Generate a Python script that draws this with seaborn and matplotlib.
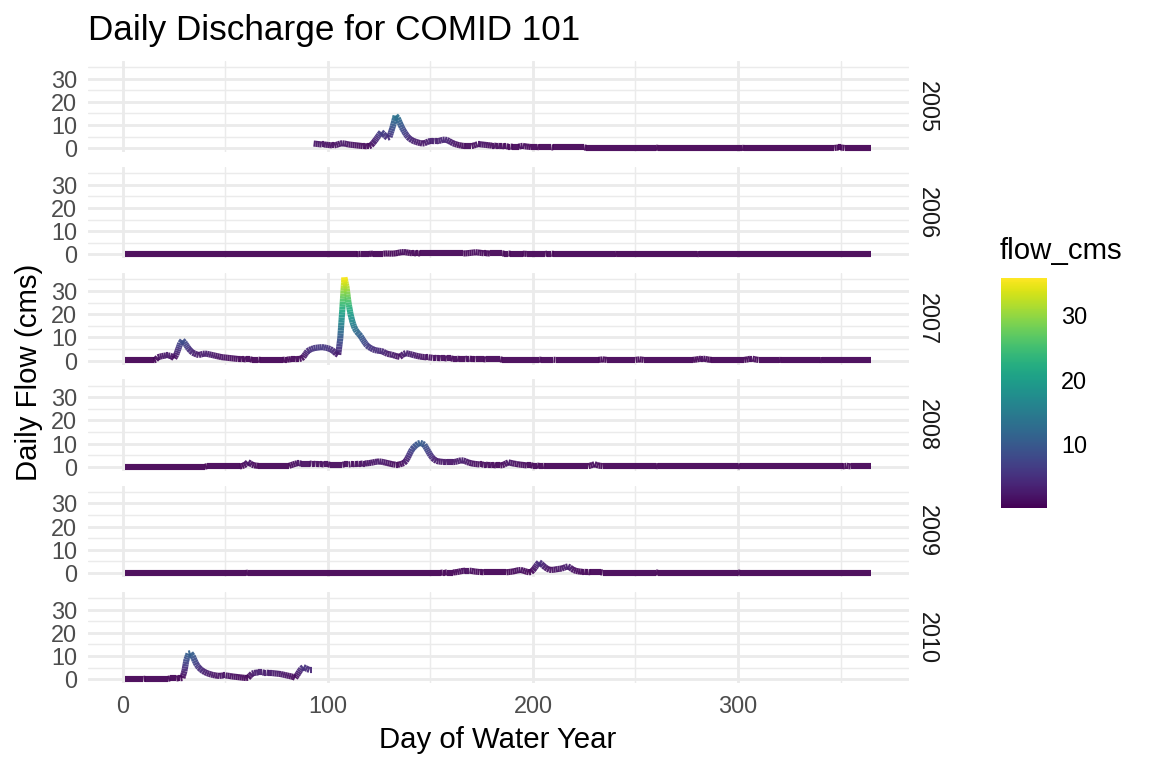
import numpy as np
import pandas as pd
import matplotlib
matplotlib.use("Agg")
import matplotlib.pyplot as plt
import matplotlib.cm as cm
from matplotlib.colors import Normalize
from matplotlib.collections import LineCollection
import seaborn as sns

# ---------------- data (daily flow, cms) ----------------
years = ["2005", "2006", "2007", "2008", "2009", "2010"]
start_days = [93, 1, 1, 1, 1, 1]

flow_2005 = [
    2.0, 1.9, 1.8, 1.7, 1.6, 1.6, 1.5, 1.4, 1.3, 1.2,
    1.2, 1.4, 1.7, 2.0, 2.1, 2.0, 1.8, 1.6, 1.5, 1.4,
    1.3, 1.2, 1.1, 1.0, 0.9, 0.9, 0.8, 0.8, 1.2, 2.2,
    3.3, 4.5, 5.8, 6.9, 6.2, 5.2, 4.5, 4.8, 7.5, 10.5,
    14.0, 13.0, 11.0, 9.0, 7.4, 6.0, 4.8, 4.0, 3.4, 3.0,
    2.7, 2.4, 2.2, 2.0, 2.1, 2.5, 2.9, 3.1, 3.1, 3.0,
    3.0, 3.1, 3.3, 3.6, 3.7, 3.5, 3.1, 2.6, 2.1, 1.8,
    1.5, 1.3, 1.1, 1.0, 0.9, 0.9, 0.9, 0.9, 1.1, 1.4,
    1.7, 1.7, 1.6, 1.5, 1.4, 1.3, 1.2, 1.1, 1.1, 1.0,
    1.0, 0.9, 0.9, 0.8, 0.8, 0.7, 0.7, 0.6, 0.6, 0.6,
    0.6, 0.9, 1.0, 0.8, 0.7, 0.6, 0.5, 0.5, 0.5, 0.5,
    0.4, 0.4, 0.4, 0.4, 0.4, 0.4, 0.4, 0.3, 0.3, 0.3,
    0.3, 0.3, 0.3, 0.3, 0.3, 0.3, 0.3, 0.3, 0.3, 0.3,
    0.3, 0.3, 0.3, 0.2, 0.2, 0.2, 0.2, 0.2, 0.2, 0.2,
    0.2, 0.2, 0.2, 0.2, 0.2, 0.2, 0.2, 0.2, 0.2, 0.2,
    0.2, 0.2, 0.2, 0.2, 0.2, 0.2, 0.2, 0.2, 0.2, 0.2,
    0.2, 0.2, 0.2, 0.2, 0.2, 0.2, 0.2, 0.2, 0.15, 0.15,
    0.15, 0.15, 0.15, 0.15, 0.15, 0.15, 0.15, 0.15, 0.15, 0.15,
    0.15, 0.15, 0.15, 0.15, 0.15, 0.15, 0.15, 0.15, 0.15, 0.15,
    0.15, 0.15, 0.15, 0.15, 0.15, 0.15, 0.15, 0.15, 0.15, 0.15,
    0.15, 0.15, 0.15, 0.15, 0.15, 0.15, 0.15, 0.15, 0.15, 0.15,
    0.1, 0.1, 0.1, 0.1, 0.1, 0.1, 0.1, 0.1, 0.1, 0.1,
    0.1, 0.1, 0.1, 0.1, 0.1, 0.1, 0.1, 0.1, 0.1, 0.1,
    0.1, 0.1, 0.1, 0.1, 0.1, 0.1, 0.1, 0.1, 0.1, 0.1,
    0.1, 0.1, 0.1, 0.1, 0.1, 0.1, 0.1, 0.1, 0.1, 0.1,
    0.1, 0.1, 0.1, 0.1, 0.1, 0.2, 0.3, 0.3, 0.2, 0.1,
    0.1, 0.1, 0.1, 0.1, 0.1, 0.1, 0.1, 0.1, 0.1, 0.1,
    0.1, 0.1, 0.1,
]

flow_2006 = [
    0.1, 0.1, 0.1, 0.1, 0.1, 0.1, 0.1, 0.1, 0.1, 0.1, 0.1, 0.1, 0.1, 0.1, 0.1, 0.1, 0.1, 0.1, 0.1, 0.1,
    0.1, 0.1, 0.1, 0.1, 0.1, 0.1, 0.1, 0.1, 0.1, 0.1, 0.1, 0.1, 0.1, 0.1, 0.1, 0.1, 0.1, 0.1, 0.1, 0.1,
    0.1, 0.1, 0.1, 0.1, 0.1, 0.1, 0.1, 0.1, 0.1, 0.1, 0.1, 0.1, 0.1, 0.1, 0.1, 0.1, 0.1, 0.1, 0.1, 0.1,
    0.1, 0.1, 0.1, 0.1, 0.1, 0.1, 0.1, 0.1, 0.1, 0.1, 0.1, 0.1, 0.1, 0.1, 0.1, 0.1, 0.1, 0.1, 0.1, 0.1,
    0.1, 0.1, 0.1, 0.1, 0.1, 0.1, 0.1, 0.1, 0.1, 0.1, 0.1, 0.1, 0.1, 0.1, 0.1, 0.1, 0.1, 0.1, 0.1, 0.1,
    0.1, 0.1, 0.1, 0.1, 0.1, 0.1, 0.1, 0.1, 0.1, 0.1,
    0.1, 0.1, 0.1, 0.1, 0.15, 0.2, 0.2, 0.2, 0.2, 0.2,
    0.25, 0.3, 0.3, 0.3, 0.3, 0.3, 0.3, 0.35, 0.4, 0.35,
    0.3, 0.35, 0.45, 0.6, 0.8, 0.95, 1.0, 0.9, 0.75, 0.6,
    0.5, 0.5, 0.45, 0.45, 0.4, 0.4, 0.4, 0.4, 0.4, 0.4,
    0.4, 0.4, 0.4, 0.4, 0.4, 0.4, 0.4, 0.4, 0.4, 0.4,
    0.4, 0.4, 0.4, 0.4, 0.4, 0.4, 0.45, 0.5, 0.6, 0.7,
    0.8, 0.9, 0.85, 0.7, 0.6, 0.5, 0.5, 0.45, 0.4, 0.4,
    0.4, 0.4, 0.4, 0.4, 0.4, 0.35, 0.35, 0.35, 0.3, 0.3,
    0.3, 0.3, 0.3, 0.3, 0.3, 0.25, 0.2, 0.2, 0.2, 0.2,
    0.2, 0.2, 0.2, 0.2, 0.2, 0.2, 0.3, 0.3, 0.3, 0.2,
    0.2, 0.2, 0.2, 0.2, 0.2, 0.2, 0.2, 0.2, 0.2, 0.2, 0.2, 0.2, 0.2, 0.2, 0.2, 0.2, 0.2, 0.2, 0.2, 0.2,
    0.2, 0.2, 0.2, 0.2, 0.2, 0.2, 0.2, 0.2, 0.2, 0.2,
    0.15, 0.15, 0.15, 0.15, 0.15, 0.15, 0.15, 0.15, 0.15, 0.15, 0.15, 0.15, 0.15, 0.15, 0.15, 0.15, 0.15, 0.15, 0.15, 0.15,
    0.15, 0.15, 0.15, 0.15, 0.15, 0.15, 0.15, 0.15, 0.15, 0.15, 0.15, 0.15, 0.15, 0.15, 0.15, 0.15, 0.15, 0.15, 0.15, 0.15,
    0.1, 0.1, 0.1, 0.1, 0.1, 0.1, 0.1, 0.1, 0.1, 0.1, 0.1, 0.1, 0.1, 0.1, 0.1, 0.1, 0.1, 0.1, 0.1, 0.1,
    0.1, 0.1, 0.1, 0.1, 0.1, 0.1, 0.1, 0.1, 0.1, 0.1, 0.1, 0.1, 0.1, 0.1, 0.1, 0.1, 0.1, 0.1, 0.1, 0.1,
    0.1, 0.1, 0.1, 0.1, 0.1, 0.1, 0.1, 0.1, 0.1, 0.1, 0.1, 0.1, 0.1, 0.1, 0.1, 0.1, 0.1, 0.1, 0.1, 0.1,
    0.1, 0.1, 0.1, 0.1, 0.1, 0.1, 0.1, 0.1, 0.1, 0.1, 0.1, 0.1, 0.1, 0.1, 0.1, 0.1, 0.1, 0.1, 0.1, 0.1,
    0.1, 0.1, 0.1, 0.1, 0.1,
]

flow_2007 = [
    0.1, 0.1, 0.1, 0.1, 0.1, 0.1, 0.1, 0.1, 0.1, 0.1,
    0.1, 0.1, 0.1, 0.1, 0.1, 0.4, 1.4, 1.7, 1.9, 2.1,
    2.2, 2.2, 2.1, 1.7, 1.0, 2.5, 5.0, 7.5, 8.7, 7.8,
    6.5, 5.2, 4.2, 3.4, 3.0, 2.6, 2.4, 2.6, 2.9, 3.0,
    2.9, 2.7, 2.5, 2.3, 2.1, 1.9, 1.7, 1.5, 1.4, 1.3,
    1.2, 1.1, 1.0, 0.9, 0.8, 0.7, 0.7, 0.6, 0.6, 0.5,
    0.5, 0.5, 0.4, 0.4, 0.4, 0.4, 0.3, 0.3, 0.3, 0.3,
    0.3, 0.3, 0.3, 0.3, 0.3, 0.3, 0.3, 0.3, 0.4, 0.4,
    0.5, 0.6, 0.6, 0.6, 0.7, 0.7, 0.9, 1.5, 2.8, 4.0,
    4.6, 5.0, 5.3, 5.5, 5.6, 5.7, 5.8, 5.7, 5.5, 5.3,
    5.0, 4.5, 3.8, 3.0, 2.5, 9.5, 22.0, 35.8, 32.0, 25.0,
    20.0, 16.5, 14.0, 12.5, 11.5, 10.5, 9.0, 7.7, 6.5, 5.8,
    5.3, 4.8, 4.5, 4.3, 4.2, 4.1, 3.8, 3.3, 2.9, 2.7,
    2.6, 2.3, 2.0, 1.8, 1.6, 2.2, 2.9, 3.2, 3.0, 2.8,
    2.6, 2.3, 2.1, 1.9, 1.7, 1.6, 1.5, 1.4, 1.4, 1.3,
    1.2, 1.2, 1.1, 1.1, 1.0, 1.0, 1.0, 0.9, 0.9, 0.9,
    0.8, 0.8, 0.8, 0.7, 0.7, 0.7, 0.7, 0.8, 0.8, 0.7,
    0.7, 0.6, 0.6, 0.6, 0.6, 0.6, 0.5, 0.5, 0.5, 0.5,
    0.5, 0.5, 0.5, 0.5, 0.4, 0.4, 0.4, 0.4, 0.4, 0.4,
    0.4, 0.4, 0.4, 0.4, 0.4, 0.4, 0.4, 0.4, 0.4, 0.4,
    0.4, 0.4, 0.4, 0.35, 0.35, 0.35, 0.35, 0.35, 0.35, 0.35,
    0.3, 0.3, 0.3, 0.3, 0.3, 0.3, 0.3, 0.3, 0.3, 0.3,
    0.3, 0.3, 0.3, 0.3, 0.3, 0.3, 0.3, 0.3, 0.3, 0.3,
    0.3, 0.3, 0.4, 0.5, 0.4, 0.3, 0.3, 0.3, 0.3, 0.3,
    0.3, 0.3, 0.3, 0.3, 0.3, 0.3, 0.3, 0.3, 0.3, 0.3,
    0.4, 0.5, 0.4, 0.3, 0.3, 0.3, 0.3, 0.3, 0.3, 0.3,
    0.3, 0.3, 0.3, 0.3, 0.3, 0.3, 0.3, 0.3, 0.3, 0.3,
    0.3, 0.3, 0.3, 0.3, 0.3, 0.3, 0.3, 0.3, 0.4, 0.5,
    0.7, 0.8, 0.8, 0.7, 0.5, 0.4, 0.3, 0.3, 0.3, 0.3,
    0.3, 0.3, 0.3, 0.3, 0.3, 0.3, 0.3, 0.3, 0.3, 0.3,
    0.3, 0.3, 0.3, 0.4, 0.6, 0.8, 0.8, 0.6, 0.4, 0.3,
    0.3, 0.3, 0.3, 0.3, 0.3, 0.3, 0.3, 0.3, 0.3, 0.3,
    0.25, 0.25, 0.25, 0.25, 0.25, 0.25, 0.25, 0.25, 0.25, 0.25,
    0.25, 0.25, 0.25, 0.25, 0.25, 0.25, 0.25, 0.25, 0.25, 0.25,
    0.2, 0.2, 0.2, 0.2, 0.2, 0.2, 0.2, 0.2, 0.2, 0.2,
    0.2, 0.2, 0.2, 0.2, 0.2, 0.2, 0.2, 0.2, 0.2, 0.2,
    0.2, 0.2, 0.2, 0.2, 0.2,
]

flow_2008 = [
    0.1, 0.1, 0.1, 0.1, 0.1, 0.1, 0.1, 0.1, 0.1, 0.1, 0.1, 0.1, 0.1, 0.1, 0.1, 0.1, 0.1, 0.1, 0.1, 0.1,
    0.1, 0.1, 0.1, 0.1, 0.1, 0.1, 0.1, 0.1, 0.1, 0.1, 0.1, 0.1, 0.1, 0.1, 0.1, 0.1, 0.1, 0.1, 0.1, 0.1,
    0.2, 0.2, 0.2, 0.2, 0.2, 0.2, 0.2, 0.2, 0.2, 0.2,
    0.2, 0.2, 0.2, 0.2, 0.2, 0.2, 0.2, 0.3, 0.6, 1.1,
    2.0, 1.5, 0.9, 0.6, 0.5, 0.4, 0.4, 0.4, 0.4, 0.4,
    0.4, 0.4, 0.4, 0.4, 0.4, 0.4, 0.4, 0.4, 0.4, 0.4,
    0.4, 0.7, 1.0, 1.3, 1.5, 1.5, 1.4, 1.4, 1.4, 1.4,
    1.4, 1.3, 1.3, 1.2, 1.2, 1.1, 1.1, 1.0, 1.0, 1.0,
    0.9, 0.9, 0.9, 0.9, 0.9, 0.9, 0.9, 1.0, 1.0, 1.0,
    1.1, 1.1, 1.2, 1.2, 1.3, 1.3, 1.4, 1.4, 1.5, 1.6,
    1.7, 1.9, 2.1, 2.2, 2.3, 2.2, 2.0, 1.8, 1.6, 1.4,
    1.2, 1.0, 0.9, 0.9, 1.0, 1.3, 1.6, 2.5, 4.0, 5.8,
    7.5, 8.5, 9.3, 10.0, 10.3, 10.0, 9.5, 8.0, 6.5, 5.0,
    3.8, 3.0, 2.5, 2.3, 2.2, 2.1, 2.1, 2.0, 2.0, 2.0,
    2.0, 2.1, 2.3, 2.6, 2.8, 2.7, 2.4, 2.0, 1.7, 1.5,
    1.3, 1.2, 1.1, 1.0, 1.0, 0.9, 0.9, 0.8, 0.8, 0.7,
    0.7, 0.6, 0.6, 0.6, 0.7, 1.0, 1.5, 1.9, 1.7, 1.5,
    1.3, 1.2, 1.0, 0.9, 0.8, 0.7, 0.6, 0.6, 0.6, 0.5,
    0.5, 0.5, 0.4, 0.4, 0.4, 0.3, 0.3, 0.3, 0.3, 0.3,
    0.3, 0.3, 0.3, 0.3, 0.3, 0.3, 0.3, 0.3, 0.3, 0.3,
    0.3, 0.3, 0.3, 0.3, 0.3, 0.3, 0.3, 0.5, 0.8, 1.1,
    0.8, 0.5, 0.4, 0.3, 0.3, 0.3, 0.3, 0.3, 0.3, 0.3,
    0.3, 0.3, 0.3, 0.3, 0.3, 0.3, 0.3, 0.3, 0.3, 0.3, 0.3, 0.3, 0.3, 0.3, 0.3, 0.3, 0.3, 0.3, 0.3, 0.3,
    0.25, 0.25, 0.25, 0.25, 0.25, 0.25, 0.25, 0.25, 0.25, 0.25, 0.25, 0.25, 0.25, 0.25, 0.25, 0.25, 0.25, 0.25, 0.25, 0.25,
    0.25, 0.25, 0.25, 0.25, 0.25, 0.25, 0.25, 0.25, 0.25, 0.25, 0.25, 0.25, 0.25, 0.25, 0.25, 0.25, 0.25, 0.25, 0.25, 0.25,
    0.2, 0.2, 0.2, 0.2, 0.2, 0.2, 0.2, 0.2, 0.2, 0.2, 0.2, 0.2, 0.2, 0.2, 0.2, 0.2, 0.2, 0.2, 0.2, 0.2,
    0.2, 0.2, 0.2, 0.2, 0.2, 0.2, 0.2, 0.2, 0.2, 0.2, 0.2, 0.2, 0.2, 0.2, 0.2, 0.2, 0.2, 0.2, 0.2, 0.2,
    0.2, 0.2, 0.2, 0.2, 0.2, 0.2, 0.2, 0.2, 0.2, 0.2,
    0.2, 0.3, 0.4, 0.3, 0.2, 0.2, 0.2, 0.2, 0.2, 0.2,
    0.2, 0.2, 0.2, 0.2, 0.2,
]

flow_2009 = [
    0.05, 0.05, 0.05, 0.05, 0.05, 0.05, 0.05, 0.05, 0.05, 0.05, 0.05, 0.05, 0.05, 0.05, 0.05, 0.05, 0.05, 0.05, 0.05, 0.05,
    0.05, 0.05, 0.05, 0.05, 0.05, 0.05, 0.05, 0.05, 0.05, 0.05, 0.05, 0.05, 0.05, 0.05, 0.05, 0.05, 0.05, 0.05, 0.05, 0.05,
    0.05, 0.05, 0.05, 0.05, 0.05, 0.05, 0.05, 0.05, 0.05, 0.05, 0.05, 0.05, 0.05, 0.05, 0.05, 0.05, 0.05, 0.05, 0.05, 0.05,
    0.1, 0.1, 0.1, 0.1, 0.1, 0.1, 0.1, 0.1, 0.1, 0.1, 0.1, 0.1, 0.1, 0.1, 0.1, 0.1, 0.1, 0.1, 0.1, 0.1,
    0.1, 0.1, 0.1, 0.1, 0.1, 0.1, 0.1, 0.1, 0.1, 0.1, 0.1, 0.1, 0.1, 0.1, 0.1, 0.1, 0.1, 0.1, 0.1, 0.1,
    0.1, 0.1, 0.1, 0.1, 0.1, 0.1, 0.1, 0.1, 0.1, 0.1, 0.1, 0.1, 0.1, 0.1, 0.1, 0.1, 0.1, 0.1, 0.1, 0.1,
    0.1, 0.1, 0.1, 0.1, 0.1, 0.1, 0.1, 0.1, 0.1, 0.1, 0.1, 0.1, 0.1, 0.1, 0.1, 0.1, 0.1, 0.1, 0.1, 0.1,
    0.1, 0.1, 0.1, 0.1, 0.1, 0.1, 0.1, 0.1, 0.1, 0.1,
    0.1, 0.1, 0.1, 0.1, 0.1, 0.15, 0.15, 0.2, 0.2, 0.2,
    0.2, 0.3, 0.4, 0.6, 0.8, 0.9, 1.0, 1.0, 1.0, 0.9,
    0.7, 0.6, 0.5, 0.4, 0.4, 0.3, 0.3, 0.3, 0.3, 0.3,
    0.3, 0.3, 0.3, 0.3, 0.3, 0.3, 0.3, 0.4, 0.5, 0.6,
    0.8, 1.0, 1.2, 1.3, 1.1, 0.8, 0.5, 0.3, 0.4, 1.2,
    2.3, 3.6, 4.6, 4.0, 3.1, 2.4, 1.8, 1.4, 1.3, 1.4,
    1.5, 1.7, 1.8, 1.9, 2.2, 2.6, 2.8, 2.4, 1.7, 1.2,
    0.9, 0.7, 0.6, 0.5, 0.5, 0.4, 0.4, 0.3, 0.3, 0.3,
    0.3, 0.3, 0.3, 0.2, 0.2, 0.2, 0.2, 0.2, 0.2, 0.2,
    0.2, 0.2, 0.2, 0.2, 0.2, 0.2, 0.2, 0.2, 0.2, 0.2, 0.2, 0.2, 0.2, 0.2, 0.2, 0.2, 0.2, 0.2, 0.2, 0.2,
    0.15, 0.15, 0.15, 0.15, 0.15, 0.15, 0.15, 0.15, 0.15, 0.15, 0.15, 0.15, 0.15, 0.15, 0.15, 0.15, 0.15, 0.15, 0.15, 0.15,
    0.15, 0.15, 0.15, 0.15, 0.15, 0.15, 0.15, 0.15, 0.15, 0.15, 0.15, 0.15, 0.15, 0.15, 0.15, 0.15, 0.15, 0.15, 0.15, 0.15,
    0.1, 0.1, 0.1, 0.1, 0.1, 0.1, 0.1, 0.1, 0.1, 0.1, 0.1, 0.1, 0.1, 0.1, 0.1, 0.1, 0.1, 0.1, 0.1, 0.1,
    0.1, 0.1, 0.1, 0.1, 0.1, 0.1, 0.1, 0.1, 0.1, 0.1, 0.1, 0.1, 0.1, 0.1, 0.1, 0.1, 0.1, 0.1, 0.1, 0.1,
    0.1, 0.1, 0.1, 0.1, 0.1, 0.1, 0.1, 0.1, 0.1, 0.1, 0.1, 0.1, 0.1, 0.1, 0.1, 0.1, 0.1, 0.1, 0.1, 0.1,
    0.1, 0.1, 0.1, 0.1, 0.1,
]

flow_2010 = [
    0.1, 0.1, 0.1, 0.1, 0.1, 0.1, 0.1, 0.1, 0.1, 0.1,
    0.2, 0.2, 0.2, 0.2, 0.2, 0.2, 0.2, 0.2, 0.2, 0.2,
    0.2, 0.2, 0.3, 0.3, 0.3, 0.3, 0.4, 0.4,
    0.5, 3.5, 8.5, 11.0, 11.2, 10.0, 8.0, 6.2, 5.0, 4.2,
    3.5, 3.0, 2.6, 2.3, 2.0, 1.8, 1.6, 1.5, 1.4, 1.5,
    1.6, 1.6, 1.5, 1.4, 1.2, 1.1, 1.0, 0.9, 0.8, 0.7,
    0.6, 0.5, 0.6, 1.5, 2.4, 2.7, 2.8, 2.9, 2.9, 2.9,
    2.8, 2.8, 2.7, 2.7, 2.6, 2.5, 2.4, 2.3, 2.2, 2.0,
    1.8, 1.6, 1.4, 1.2, 1.0, 0.6, 1.8, 3.2, 4.5, 5.2,
    4.8, 4.3, 4.0, 4.0,
]

flows = [flow_2005, flow_2006, flow_2007, flow_2008, flow_2009, flow_2010]

frames = []
for yr, st, vals in zip(years, start_days, flows):
    frames.append(pd.DataFrame({
        "year": yr,
        "day": np.arange(st, st + len(vals)),
        "flow_cms": np.asarray(vals, dtype=float),
    }))
df = pd.concat(frames, ignore_index=True)

# ---------------- styling ----------------
sns.set_theme(style="white")
plt.rcParams["font.family"] = ["Liberation Sans", "DejaVu Sans"]

cmap = sns.color_palette("viridis", as_cmap=True)
norm = Normalize(vmin=df["flow_cms"].min(), vmax=df["flow_cms"].max())


def draw_flow(data, **kws):
    ax = plt.gca()
    x = data["day"].to_numpy(float)
    y = data["flow_cms"].to_numpy(float)
    segs, vals = [], []
    for i in range(len(x) - 1):
        dy = y[i + 1] - y[i]
        dx = x[i + 1] - x[i]
        n = max(1, int(np.ceil(abs(dy) / 1.2)))
        for k in range(n):
            t0, t1 = k / n, (k + 1) / n
            segs.append([(x[i] + dx * t0, y[i] + dy * t0),
                         (x[i] + dx * t1, y[i] + dy * t1)])
            vals.append(y[i] + dy * (t0 + t1) / 2)
    lc = LineCollection(segs, cmap=cmap, norm=norm, linewidths=2.3,
                        capstyle="butt", alpha=0.93)
    lc.set_array(np.asarray(vals))
    ax.add_collection(lc)


g = sns.FacetGrid(df, row="year", row_order=years, sharex=True, sharey=True,
                  margin_titles=True, height=1.0, aspect=6, despine=False)
g.map_dataframe(draw_flow)
fig = g.figure
fig.set_size_inches(6, 4)
fig.set_dpi(192)

xmin, xmax = df["day"].min(), df["day"].max()
ymin, ymax = df["flow_cms"].min(), df["flow_cms"].max()
xpad = 0.05 * (xmax - xmin)
ypad = 0.05 * (ymax - ymin)

g.set_axis_labels("", "")
g.set_titles(row_template="{row_name}", col_template="", size=8.8, color="#1A1A1A")
for t in g._margin_titles_texts:
    t.set_position((1.009, 0.5))
    t.xy = (1.009, 0.5)

for ax in g.axes.flat:
    ax.set_xlim(xmin - xpad, xmax + xpad)
    ax.set_ylim(ymin - ypad, ymax + ypad)
    ax.set_xticks([0, 100, 200, 300])
    ax.set_xticks([50, 150, 250, 350], minor=True)
    ax.set_yticks([0, 10, 20, 30])
    ax.set_yticks([5, 15, 25, 35], minor=True)
    ax.grid(which="major", color="#EBEBEB", linewidth=1.07)
    ax.grid(which="minor", color="#EBEBEB", linewidth=0.53)
    ax.set_axisbelow(True)
    for s in ax.spines.values():
        s.set_visible(False)
    ax.tick_params(which="both", length=0, labelsize=8.8, labelcolor="#4D4D4D")
    ax.tick_params(axis="y", pad=4.0)
    ax.tick_params(axis="x", pad=4.5)
    ax.set_facecolor("white")

fig.subplots_adjust(left=0.0761, right=0.7887, top=0.9207, bottom=0.1104, hspace=0.163)

W, H = 1152.0, 768.0
fig.text(88 / W, 1 - 40 / H, "Daily Discharge for COMID 101", fontsize=13.2,
         ha="left", va="baseline", color="black")
fig.text(498 / W, 1 - 748 / H, "Day of Water Year", fontsize=11,
         ha="center", va="baseline", color="black")
fig.text(29 / W, 1 - 372 / H, "Daily Flow (cms)", fontsize=11, rotation=90,
         ha="center", va="center", color="black")

# colourbar legend
cax = fig.add_axes([1000.7 / W, 1 - 508 / H, 46 / W, 230 / H])
sm = cm.ScalarMappable(norm=norm, cmap=cmap)
cb = fig.colorbar(sm, cax=cax)
cb.outline.set_visible(False)
cb.set_ticks([10, 20, 30])
cax.yaxis.set_ticks_position("both")
cax.tick_params(direction="in", length=3.5, width=0.6, color="#F2F2F2",
                labelsize=8.8, labelcolor="black", pad=5.5,
                left=True, right=True, labelleft=False, labelright=True)
fig.text(1000 / W, 1 - 259 / H, "flow_cms", fontsize=11, ha="left",
         va="baseline", color="black")

fig.savefig("out.png", dpi=192, facecolor="white")
